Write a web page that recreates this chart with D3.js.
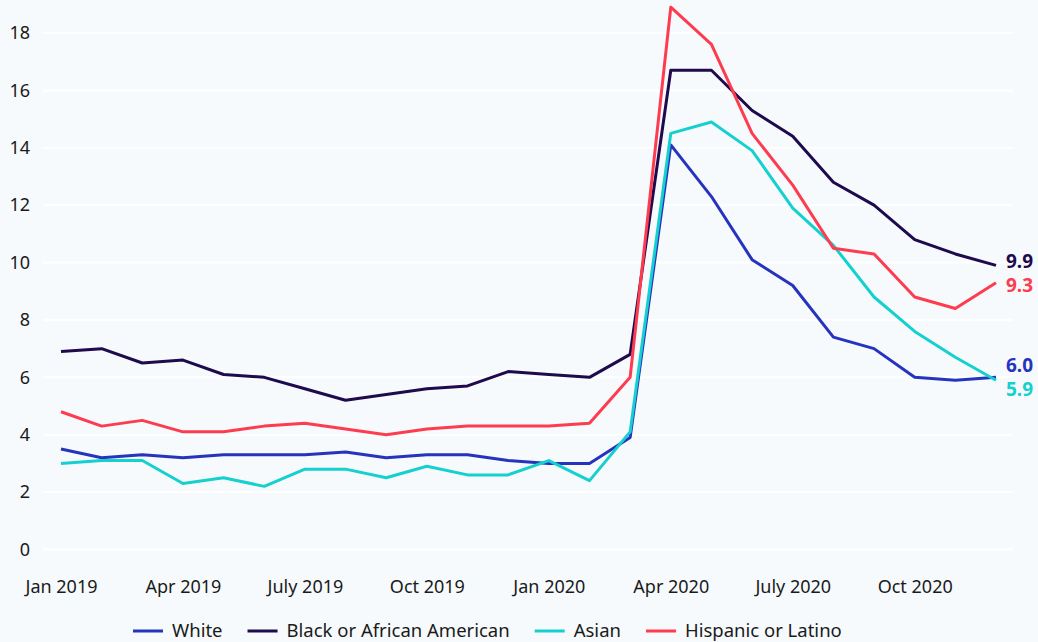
<!DOCTYPE html>
<html>
<head>
<meta charset="utf-8">
<script src="https://cdn.jsdelivr.net/npm/d3@7.9.0/dist/d3.min.js"></script>
<style>
  html, body { margin: 0; padding: 0; background: #f6fafd; }
  svg { display: block; font-family: "Noto Sans", "Open Sans", sans-serif; }
</style>
</head>
<body>
<svg id="chart" width="1038" height="642"></svg>
<script>
// months Jan 2019 .. Dec 2020
const months = ["Jan 2019", "Feb 2019", "Mar 2019", "Apr 2019", "May 2019", "June 2019",
                "July 2019", "Aug 2019", "Sep 2019", "Oct 2019", "Nov 2019", "Dec 2019",
                "Jan 2020", "Feb 2020", "Mar 2020", "Apr 2020", "May 2020", "June 2020",
                "July 2020", "Aug 2020", "Sep 2020", "Oct 2020", "Nov 2020", "Dec 2020"];
const tickLabels = ["Jan 2019", "Apr 2019", "July 2019", "Oct 2019", "Jan 2020", "Apr 2020", "July 2020", "Oct 2020"];
const yTicks = [0, 2, 4, 6, 8, 10, 12, 14, 16, 18];

const seriesNames = ["White", "Black or African American", "Asian", "Hispanic or Latino"];
const seriesColors = ["#2633bd", "#1e0a4c", "#16d0d0", "#fd3c4f"];

const white = [3.5, 3.2, 3.3, 3.2, 3.3, 3.3, 3.3, 3.4, 3.2, 3.3, 3.3, 3.1,
               3.0, 3.0, 3.9, 14.1, 12.3, 10.1, 9.2, 7.4, 7.0, 6.0, 5.9, 6.0];
const black = [6.9, 7.0, 6.5, 6.6, 6.1, 6.0, 5.6, 5.2, 5.4, 5.6, 5.7, 6.2,
               6.1, 6.0, 6.8, 16.7, 16.7, 15.3, 14.4, 12.8, 12.0, 10.8, 10.3, 9.9];
const asian = [3.0, 3.1, 3.1, 2.3, 2.5, 2.2, 2.8, 2.8, 2.5, 2.9, 2.6, 2.6,
               3.1, 2.4, 4.1, 14.5, 14.9, 13.9, 11.9, 10.6, 8.8, 7.6, 6.7, 5.9];
const hispanic = [4.8, 4.3, 4.5, 4.1, 4.1, 4.3, 4.4, 4.2, 4.0, 4.2, 4.3, 4.3,
                  4.3, 4.4, 6.0, 18.9, 17.6, 14.5, 12.7, 10.5, 10.3, 8.8, 8.4, 9.3];

const allSeries = [white, black, asian, hispanic].map((values, i) => ({
  name: seriesNames[i],
  color: seriesColors[i],
  values: values
}));

const svg = d3.select("#chart");

const x = d3.scalePoint()
  .domain(months)
  .range([61, 996]);
const y = d3.scaleLinear()
  .domain([0, 18])
  .range([549.5, 33]);

// gridlines
svg.append("g")
  .selectAll("line")
  .data(yTicks)
  .join("line")
  .attr("x1", 43).attr("x2", 1013)
  .attr("y1", d => y(d)).attr("y2", d => y(d))
  .attr("stroke", "#ffffff")
  .attr("stroke-width", 2);

// y axis labels
const yAxis = svg.append("g")
  .attr("transform", "translate(30,0)")
  .call(d3.axisLeft(y).tickValues(yTicks).tickSize(0).tickPadding(0));
yAxis.select(".domain").remove();
yAxis.selectAll("text")
  .attr("font-size", 18)
  .attr("font-family", "Noto Sans, Open Sans, sans-serif")
  .attr("fill", "#1a1a1a");

// x axis labels
const xAxis = svg.append("g")
  .attr("transform", "translate(0,580)")
  .call(d3.axisBottom(x).tickValues(tickLabels).tickSize(0).tickPadding(0));
xAxis.select(".domain").remove();
xAxis.selectAll("text")
  .attr("font-size", 18)
  .attr("font-family", "Noto Sans, Open Sans, sans-serif")
  .attr("fill", "#1a1a1a");

// lines
const line = d3.line()
  .x((d, i) => x(months[i]))
  .y(d => y(d));

svg.append("g")
  .selectAll("path")
  .data(allSeries)
  .join("path")
  .attr("d", d => line(d.values))
  .attr("fill", "none")
  .attr("stroke", d => d.color)
  .attr("stroke-width", 3)
  .attr("stroke-linejoin", "round");

// end labels with simple dodge
let ends = allSeries.map(s => ({
  color: s.color,
  value: s.values[s.values.length - 1],
  ly: y(s.values[s.values.length - 1])
})).sort((a, b) => a.ly - b.ly);
const gap = 24;
for (let iter = 0; iter < 20; iter++) {
  for (let i = 1; i < ends.length; i++) {
    const d = ends[i].ly - ends[i - 1].ly;
    if (d < gap) {
      const push = (gap - d) / 2;
      ends[i - 1].ly -= push;
      ends[i].ly += push;
    }
  }
}
svg.append("g")
  .selectAll("text")
  .data(ends)
  .join("text")
  .attr("x", 1006)
  .attr("y", d => d.ly - 1)
  .attr("dy", "0.35em")
  .attr("font-size", 19)
  .attr("font-weight", "bold")
  .attr("fill", d => d.color)
  .text(d => d3.format(".1f")(d.value));

// legend
const legend = svg.append("g").attr("transform", "translate(0,631)");
const legendItems = legend.selectAll("g")
  .data(allSeries)
  .join("g");
legendItems.append("line")
  .attr("x1", 0).attr("x2", 30)
  .attr("y1", 0).attr("y2", 0)
  .attr("stroke", d => d.color)
  .attr("stroke-width", 3);
legendItems.append("text")
  .attr("x", 39)
  .attr("dy", "0.35em")
  .attr("font-size", 18.5)
  .attr("fill", "#1a1a1a")
  .text(d => d.name);

// lay out legend items in a row
const widths = [];
legendItems.each(function () {
  widths.push(this.getBBox().width);
});
const spacing = 25;
let offset = 133;
legendItems.attr("transform", (d, i) => {
  const t = `translate(${offset},0)`;
  offset += widths[i] + spacing;
  return t;
});
</script>
</body>
</html>
